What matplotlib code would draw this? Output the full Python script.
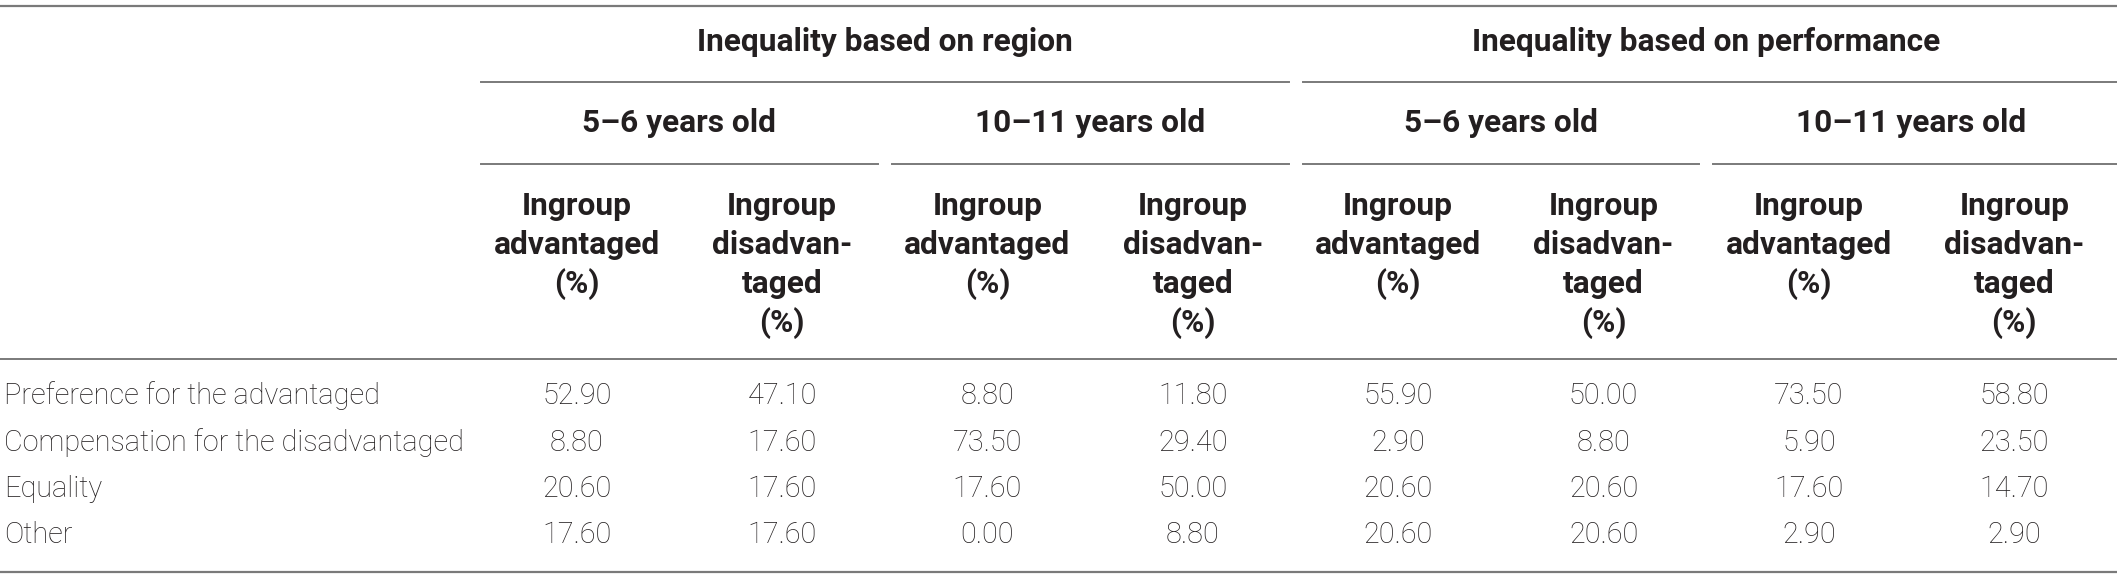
import matplotlib
matplotlib.use("Agg")
import matplotlib.pyplot as plt

# table content
row_labels = ["Preference for the advantaged",
              "Compensation for the disadvantaged",
              "Equality",
              "Other"]
groups = ["Inequality based on region", "Inequality based on performance"]
ages = ["5\u20136 years old", "10\u201311 years old"]
col_heads = [["Ingroup", "advantaged", "(%)"],
             ["Ingroup", "disadvan-", "taged", "(%)"]]

region_56_adv = [52.90, 8.80, 20.60, 17.60]
region_56_dis = [47.10, 17.60, 17.60, 17.60]
region_1011_adv = [8.80, 73.50, 17.60, 0.00]
region_1011_dis = [11.80, 29.40, 50.00, 8.80]
perf_56_adv = [55.90, 2.90, 20.60, 20.60]
perf_56_dis = [50.00, 8.80, 20.60, 20.60]
perf_1011_adv = [73.50, 5.90, 17.60, 2.90]
perf_1011_dis = [58.80, 23.50, 14.70, 2.90]

columns = [region_56_adv, region_56_dis, region_1011_adv, region_1011_dis,
           perf_56_adv, perf_56_dis, perf_1011_adv, perf_1011_dis]

W, H = 2117, 577
fig = plt.figure(figsize=(W / 100, H / 100), dpi=100)
ax = fig.add_axes([0, 0, 1, 1])
ax.set_xlim(0, W)
ax.set_ylim(H, 0)
ax.axis("off")

txt = "#231f20"
line_c = "#7a7a7a"
body = dict(family=["Roboto", "DejaVu Sans"], fontweight="light", fontsize=20.8, color=txt)
head = dict(family=["Roboto", "DejaVu Sans"], fontweight="bold", fontsize=22.8, color=txt)

label_w = 474
cw = (W - label_w) / 8
edges = [label_w + i * cw for i in range(9)]
pad = 7

# horizontal rules
ax.plot([0, W], [6, 6], color=line_c, lw=1.6)
ax.plot([0, W], [359, 359], color=line_c, lw=1.4)
ax.plot([0, W], [572, 572], color=line_c, lw=1.6)

# group headers
for g, name in enumerate(groups):
    x0, x1 = edges[g * 4], edges[g * 4 + 4]
    ax.text((x0 + x1) / 2, 42, name, ha="center", va="center", **head)
    ax.plot([x0 + pad, x1 - (pad if g == 0 else 0)], [82, 82], color=line_c, lw=1.4)
    for a, age in enumerate(ages):
        a0, a1 = edges[g * 4 + a * 2], edges[g * 4 + a * 2 + 2]
        ax.text((a0 + a1) / 2, 123, age, ha="center", va="center", **head)
        right = a1 if a1 >= W - 1 else a1 - pad
        ax.plot([a0 + pad, right], [164, 164], color=line_c, lw=1.4)

# column headers, one line at a time
head_y = [206, 245, 284, 323]
for c in range(8):
    xc = (edges[c] + edges[c + 1]) / 2
    for k, part in enumerate(col_heads[c % 2]):
        ax.text(xc, head_y[k], part, ha="center", va="center", **head)

# body rows
row_y = [396, 443, 489, 535]
for r, lab in enumerate(row_labels):
    ax.text(4, row_y[r], lab, ha="left", va="center", **body)
    for c, vals in enumerate(columns):
        xc = (edges[c] + edges[c + 1]) / 2
        ax.text(xc, row_y[r], "%.2f" % vals[r], ha="center", va="center", **body)

fig.savefig("out.png", dpi=100)
